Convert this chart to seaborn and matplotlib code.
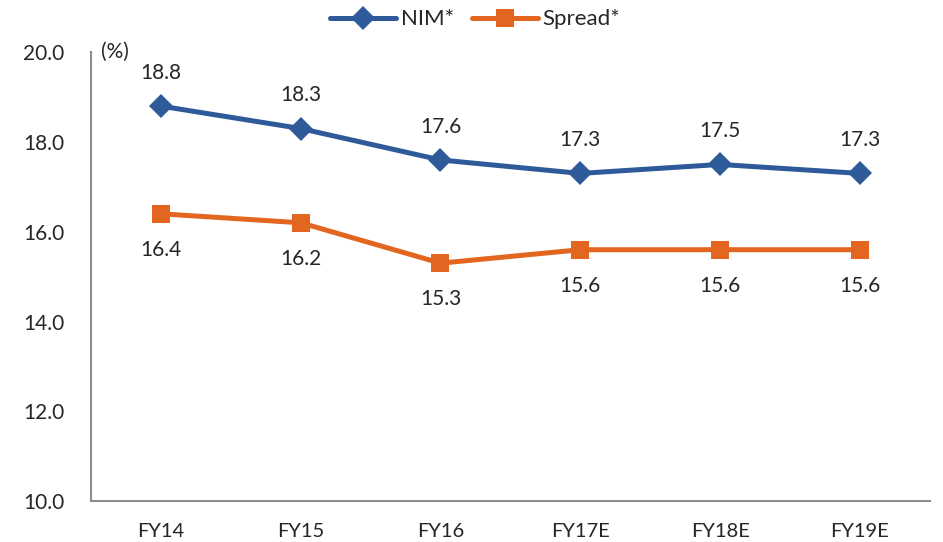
import matplotlib
matplotlib.use("Agg")
import matplotlib.pyplot as plt
import seaborn as sns
import pandas as pd
from matplotlib.ticker import FixedLocator

periods = ["FY14", "FY15", "FY16", "FY17E", "FY18E", "FY19E"]
nim = [18.8, 18.3, 17.6, 17.3, 17.5, 17.3]
spread = [16.4, 16.2, 15.3, 15.6, 15.6, 15.6]

series_names = ["NIM*", "Spread*"]
colors = ["#2E5A9A", "#E2661F"]
markers = ["D", "s"]

sns.set_theme(style="white")
plt.rcParams["font.family"] = ["Lato", "DejaVu Sans"]

df = pd.DataFrame({
    "period": periods * 2,
    "pos": list(range(len(periods))) * 2,
    "value": nim + spread,
    "series": [series_names[0]] * len(periods) + [series_names[1]] * len(periods),
})

fig = plt.figure(figsize=(9.43, 5.42), dpi=100)
ax = fig.add_axes([0.0965, 0.0756, 0.8895, 0.828])

sns.lineplot(
    data=df, x="pos", y="value", hue="series", style="series",
    palette=colors, markers=markers, dashes=False, linewidth=3.6,
    markersize=12.5, markeredgewidth=0, ax=ax, legend=True,
)

ax.set_xlim(-0.5, len(periods) - 0.5)
ax.set_ylim(10, 20)
ax.set_yticks([10, 12, 14, 16, 18, 20])
ax.set_yticklabels([f"{v:.1f}" for v in [10, 12, 14, 16, 18, 20]], fontsize=15)
ax.set_xticks(range(len(periods)))
ax.set_xticklabels(periods, fontsize=14.5)
ax.xaxis.set_minor_locator(FixedLocator([i - 0.5 for i in range(len(periods) + 1)]))
ax.tick_params(axis="x", which="major", length=0, pad=16)
ax.tick_params(axis="x", which="minor", length=6, width=1.5, color="#8C8C8C", direction="out")
ax.tick_params(axis="y", length=6, width=1.5, color="#8C8C8C", direction="out", pad=13)
ax.set_xlabel("")
ax.set_ylabel("")

for side in ["top", "right"]:
    ax.spines[side].set_visible(False)
for side in ["left", "bottom"]:
    ax.spines[side].set_color("#8C8C8C")
    ax.spines[side].set_linewidth(1.5)

for i, v in enumerate(nim):
    ax.annotate(f"{v:.1f}", (i, v), xytext=(0, 24), textcoords="offset points",
                ha="center", va="center", fontsize=15)
for i, v in enumerate(spread):
    ax.annotate(f"{v:.1f}", (i, v), xytext=(0, -26), textcoords="offset points",
                ha="center", va="center", fontsize=15)

ax.text(0.012, 1.0, "(%)", transform=ax.transAxes, ha="left", va="center", fontsize=15)

handles, labels = ax.get_legend_handles_labels()
ax.legend(handles, labels, loc="center", bbox_to_anchor=(475 / 838.8 - 91 / 838.8, 1.073),
          ncol=2, frameon=False, fontsize=16, handlelength=3.0, columnspacing=0.8,
          handletextpad=0.2, borderaxespad=0)

fig.savefig("out.png", dpi=100)
